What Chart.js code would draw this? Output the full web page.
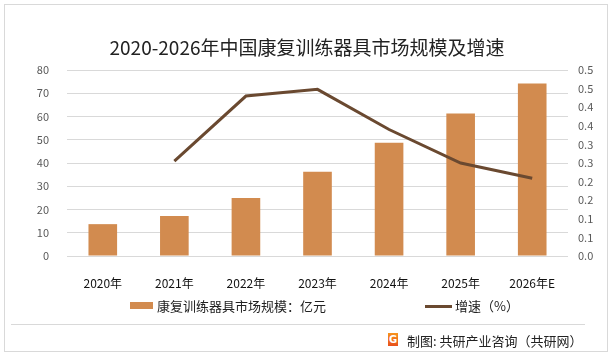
<!DOCTYPE html>
<html>
<head>
<meta charset="utf-8">
<script src="https://cdn.jsdelivr.net/npm/chart.js@4.4.1/dist/chart.umd.min.js"></script>
<style>
  body { margin: 0; background: #fff; }
  #wrap { position: relative; width: 614px; height: 359px; font-family: "Noto Sans CJK SC", "Noto Sans", sans-serif; }
  #frame { position: absolute; left: 4px; top: 4px; width: 604px; height: 348px; border: 1px solid #d9d9d9; box-sizing: border-box; }
  #title { position: absolute; left: 0; width: 614px; top: 34px; text-align: center; font-size: 19px; color: #222; line-height: 26px; }
  .leg { position: absolute; top: 297px; font-size: 13px; color: #222; line-height: 18px; }
  .leg i { position: absolute; display: block; }
  #sep { position: absolute; left: 11px; top: 324px; width: 574px; height: 1px; background: #d9d9d9; }
  #foot { position: absolute; left: 407px; top: 332px; font-size: 13px; color: #222; line-height: 18px; white-space: nowrap; }
  #logo { position: absolute; left: 388px; top: 333px; width: 10px; height: 13px; background: linear-gradient(#f7941d, #e8501c); color: #fff; font: bold 10px "DejaVu Sans", sans-serif; text-align: center; line-height: 13px; }
  canvas { position: absolute; left: 0; top: 0; }
</style>
</head>
<body>
<div id="wrap">
  <div id="frame"></div>
  <canvas id="chart" width="614" height="359"></canvas>
  <div id="title">2020-2026年中国康复训练器具市场规模及增速</div>
  <div class="leg" style="left:157px;"><i style="left:-27px;top:5px;width:23px;height:7px;background:#d28b4f;"></i>康复训练器具市场规模：亿元</div>
  <div class="leg" style="left:455px;"><i style="left:-30px;top:8px;width:27px;height:3px;background:#6a4930;"></i>增速（%）</div>
  <div id="sep"></div>
  <div id="logo">G</div>
  <div id="foot">制图: 共研产业咨询（共研网）</div>
</div>
<script>
const years = ["2020年", "2021年", "2022年", "2023年", "2024年", "2025年", "2026年E"];
const marketSize = [13.7, 17.2, 25.0, 36.2, 48.7, 61.3, 74.2];
const growthRate = [null, 0.255, 0.430, 0.448, 0.340, 0.250, 0.209];
const rightTickLabels = ["0.0", "0.1", "0.1", "0.2", "0.2", "0.3", "0.3", "0.4", "0.4", "0.5", "0.5"];

const tickFont = { family: "Noto Sans CJK SC", size: 11 };

new Chart(document.getElementById("chart"), {
  data: {
    labels: years,
    datasets: [
      {
        type: "line",
        label: "增速（%）",
        data: growthRate,
        yAxisID: "y1",
        borderColor: "#6a4930",
        borderWidth: 3,
        pointRadius: 0,
        tension: 0,
        order: 0,
      },
      {
        type: "bar",
        label: "康复训练器具市场规模：亿元",
        data: marketSize,
        yAxisID: "y",
        backgroundColor: "#d28b4f",
        barPercentage: 0.8,
        categoryPercentage: 0.5,
        order: 1,
      },
    ],
  },
  options: {
    responsive: false,
    animation: false,
    layout: { padding: { top: 70, bottom: 63, left: 0, right: 0 } },
    plugins: { legend: { display: false }, tooltip: { enabled: false } },
    scales: {
      x: {
        grid: { display: false },
        border: { display: false },
        ticks: { color: "#111", font: { family: "Noto Sans CJK SC", size: 12 }, padding: 12, maxRotation: 0 },
        afterFit: (s) => { s.height = 40; },
      },
      y: {
        position: "left",
        min: 0,
        max: 80,
        ticks: { stepSize: 10, color: "#595959", font: tickFont, padding: 18 },
        grid: { color: "#d9d9d9", drawTicks: false, lineWidth: 1 },
        border: { display: false },
        afterFit: (s) => { s.width = 67; },
      },
      y1: {
        position: "right",
        min: 0,
        max: 0.5,
        ticks: {
          stepSize: 0.05,
          color: "#595959",
          font: tickFont,
          padding: 10,
          callback: (v, i) => rightTickLabels[i],
        },
        grid: { display: false, drawTicks: false },
        border: { display: false },
        afterFit: (s) => { s.width = 46; },
      },
    },
  },
});
</script>
</body>
</html>
